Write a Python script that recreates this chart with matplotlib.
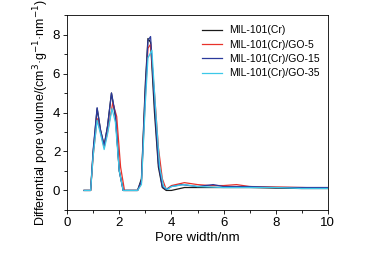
import matplotlib
matplotlib.use("Agg")
import matplotlib.pyplot as plt
from matplotlib.ticker import MultipleLocator

plt.rcParams['font.family'] = ['Liberation Sans', 'DejaVu Sans']

# pore width (nm) and differential pore volume per sample
x_cr = [0.65, 0.9, 1.0, 1.15, 1.28, 1.42, 1.55, 1.7, 1.85, 2.0, 2.15, 2.7, 2.85, 3.0, 3.1, 3.2,
        3.35, 3.5, 3.65, 3.8, 4.0, 4.5, 5.0, 6.0, 7.0, 8.0, 9.0, 10.0]
y_cr = [0, 0, 2.0, 4.2, 3.1, 2.3, 3.3, 5.0, 3.8, 1.0, 0, 0, 0.6, 5.5, 7.8, 7.6,
        4.0, 1.2, 0.15, 0.0, 0.0, 0.15, 0.15, 0.15, 0.15, 0.12, 0.1, 0.1]

x_go5 = [0.65, 0.9, 1.0, 1.15, 1.28, 1.42, 1.55, 1.75, 1.9, 2.05, 2.2, 2.7, 2.85, 3.0, 3.1, 3.2,
         3.35, 3.5, 3.65, 3.8, 4.0, 4.5, 5.0, 5.5, 6.0, 6.5, 7.0, 8.0, 9.0, 10.0]
y_go5 = [0, 0, 1.8, 3.7, 3.0, 2.2, 3.0, 4.5, 3.8, 1.2, 0, 0, 0.4, 4.8, 7.3, 7.5,
         5.0, 2.2, 0.6, 0.05, 0.25, 0.4, 0.3, 0.25, 0.25, 0.3, 0.2, 0.18, 0.15, 0.12]

x_go15 = [0.65, 0.9, 1.0, 1.15, 1.28, 1.42, 1.55, 1.7, 1.85, 2.0, 2.15, 2.7, 2.85, 3.0, 3.1, 3.2,
          3.35, 3.5, 3.65, 3.8, 4.0, 4.4, 5.0, 5.6, 6.0, 7.0, 8.0, 9.0, 10.0]
y_go15 = [0, 0, 2.1, 4.25, 3.1, 2.3, 3.3, 5.0, 3.9, 1.0, 0, 0, 0.5, 5.2, 7.7, 7.9,
          4.5, 1.4, 0.2, 0.05, 0.2, 0.3, 0.2, 0.3, 0.2, 0.2, 0.15, 0.15, 0.15]

x_go35 = [0.65, 0.9, 1.0, 1.15, 1.28, 1.42, 1.55, 1.72, 1.85, 2.0, 2.15, 2.7, 2.85, 3.0, 3.1, 3.25,
          3.4, 3.55, 3.7, 3.85, 4.0, 4.5, 5.0, 6.0, 7.0, 8.0, 9.0, 10.0]
y_go35 = [0, 0, 1.8, 3.6, 2.9, 2.1, 2.9, 4.2, 3.5, 1.0, 0, 0, 0.3, 4.5, 6.8, 7.2,
          4.0, 1.2, 0.2, 0.05, 0.2, 0.3, 0.2, 0.15, 0.15, 0.15, 0.1, 0.1]

labels = ["MIL-101(Cr)", "MIL-101(Cr)/GO-5", "MIL-101(Cr)/GO-15", "MIL-101(Cr)/GO-35"]
colors = ["#1a1a1a", "#e8322a", "#2b3a9c", "#3cc8e8"]

fig = plt.figure(figsize=(3.73, 2.56), dpi=100)
ax = fig.add_axes([0.180, 0.180, 0.699, 0.761])

series = [(x_cr, y_cr), (x_go5, y_go5), (x_go15, y_go15), (x_go35, y_go35)]
for (xs, ys), lab, c in zip(series, labels, colors):
    ax.plot(xs, ys, color=c, lw=0.9, label=lab)

ax.set_xlim(0, 10)
ax.set_ylim(-1, 9)
ax.xaxis.set_major_locator(MultipleLocator(2))
ax.xaxis.set_minor_locator(MultipleLocator(1))
ax.yaxis.set_minor_locator(MultipleLocator(1))
ax.set_yticks([0, 2, 4, 6, 8])
ax.tick_params(direction='out', length=3, width=0.6, labelsize=9.5, pad=2)
ax.tick_params(which='minor', direction='out', length=2, width=0.6)
for s in ax.spines.values():
    s.set_linewidth(0.6)

ax.set_xlabel("Pore width/nm", fontsize=9.5, labelpad=2)
ax.set_ylabel("Differential pore volume/(cm$^3$·g$^{-1}$·nm$^{-1}$)", fontsize=9, labelpad=1)

ax.legend(loc='upper right', frameon=False, fontsize=7.5, handlelength=2.0,
          handletextpad=0.6, labelspacing=0.42, borderaxespad=0.3,
          bbox_to_anchor=(0.995, 0.985))

fig.savefig("out.png", dpi=100)
